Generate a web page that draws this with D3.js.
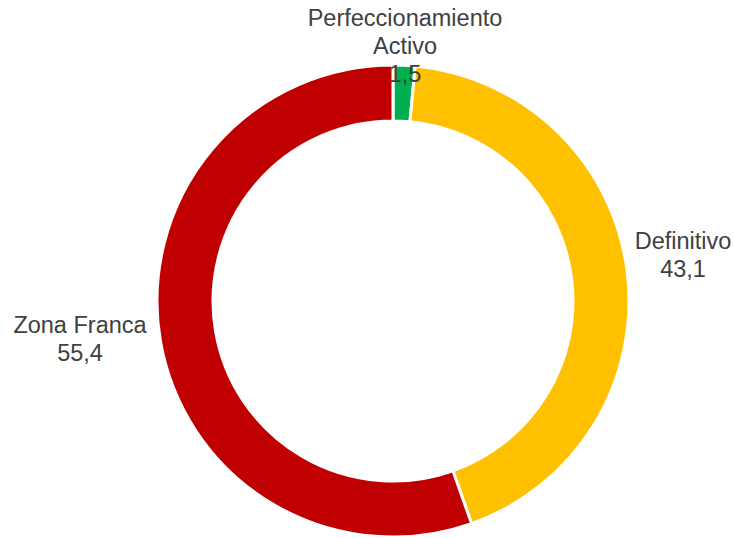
<!DOCTYPE html>
<html><head><meta charset="utf-8">
<script src="https://cdn.jsdelivr.net/npm/d3@7"></script>
<style>body{margin:0;background:#fff;}svg{display:block;}</style>
</head><body>
<svg id="c" width="734" height="538"></svg>
<script>
const categories = ["Perfeccionamiento Activo", "Definitivo", "Zona Franca"];
const values = [1.5, 43.1, 55.4];
const labelLines = [["Perfeccionamiento", "Activo", "1,5"], ["Definitivo", "43,1"], ["Zona Franca", "55,4"]];
const colors = ["#00B050", "#FFC000", "#C00000"];

const svg = d3.select("#c");
const cx = 393, cy = 301, rOuter = 236, rInner = 180;
const pie = d3.pie().sort(null).value(d => d)(values);
const arc = d3.arc().innerRadius(rInner).outerRadius(rOuter);
const g = svg.append("g").attr("transform", `translate(${cx},${cy})`);
g.selectAll("path").data(pie).join("path")
  .attr("d", arc).attr("fill", (d, i) => colors[i])
  .attr("stroke", "#fff").attr("stroke-width", 3).attr("stroke-linejoin", "round");

const labelPos = [[405, 26], [683, 249], [80, 333]];
const lh = 28;
labelLines.forEach((lines, i) => {
  const t = svg.append("text").attr("text-anchor", "middle")
    .attr("font-family", "'Liberation Sans', Arial, sans-serif").attr("font-size", 23.5).attr("fill", "#404040");
  lines.forEach((s, j) => t.append("tspan").attr("x", labelPos[i][0]).attr("y", labelPos[i][1] + j * lh).text(s));
});
</script>
</body></html>
